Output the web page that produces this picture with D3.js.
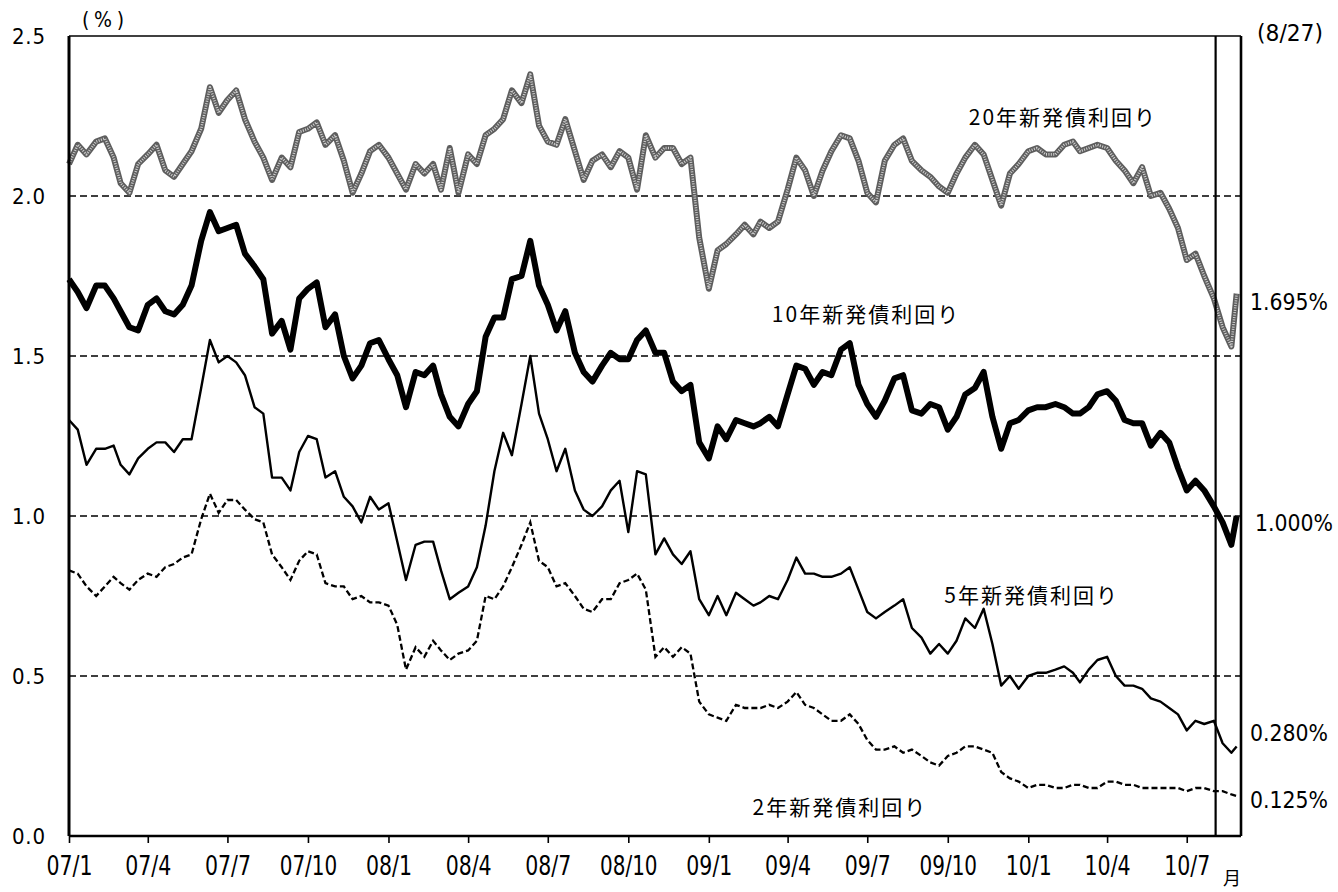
<!DOCTYPE html>
<html>
<head>
<meta charset="utf-8">
<script src="https://cdn.jsdelivr.net/npm/d3@7"></script>
<style>
body { margin: 0; background: #fff; }
text { font-family: "DejaVu Sans", sans-serif; font-stretch: condensed; fill: #000; }
.jp { font-family: "Noto Sans CJK JP", sans-serif; font-stretch: normal; }
</style>
</head>
<body>
<div class="chart"></div>
<script>
// observation dates (1st, 11th, 21st of each month, plus last day shown)
var dates = [
"2007-01-01","2007-01-11","2007-01-21","2007-02-01","2007-02-11","2007-02-21","2007-03-01","2007-03-11","2007-03-21",
"2007-04-01","2007-04-11","2007-04-21","2007-05-01","2007-05-11","2007-05-21","2007-06-01","2007-06-11","2007-06-21",
"2007-07-01","2007-07-11","2007-07-21","2007-08-01","2007-08-11","2007-08-21","2007-09-01","2007-09-11","2007-09-21",
"2007-10-01","2007-10-11","2007-10-21","2007-11-01","2007-11-11","2007-11-21","2007-12-01","2007-12-11","2007-12-21",
"2008-01-01","2008-01-11","2008-01-21","2008-02-01","2008-02-11","2008-02-21","2008-03-01","2008-03-11","2008-03-21",
"2008-04-01","2008-04-11","2008-04-21","2008-05-01","2008-05-11","2008-05-21","2008-06-01","2008-06-11","2008-06-21",
"2008-07-01","2008-07-11","2008-07-21","2008-08-01","2008-08-11","2008-08-21","2008-09-01","2008-09-11","2008-09-21",
"2008-10-01","2008-10-11","2008-10-21","2008-11-01","2008-11-11","2008-11-21","2008-12-01","2008-12-11","2008-12-21",
"2009-01-01","2009-01-11","2009-01-21","2009-02-01","2009-02-11","2009-02-21","2009-03-01","2009-03-11","2009-03-21",
"2009-04-01","2009-04-11","2009-04-21","2009-05-01","2009-05-11","2009-05-21","2009-06-01","2009-06-11","2009-06-21",
"2009-07-01","2009-07-11","2009-07-21","2009-08-01","2009-08-11","2009-08-21","2009-09-01","2009-09-11","2009-09-21",
"2009-10-01","2009-10-11","2009-10-21","2009-11-01","2009-11-11","2009-11-21","2009-12-01","2009-12-11","2009-12-21",
"2010-01-01","2010-01-11","2010-01-21","2010-02-01","2010-02-11","2010-02-21","2010-03-01","2010-03-11","2010-03-21",
"2010-04-01","2010-04-11","2010-04-21","2010-05-01","2010-05-11","2010-05-21","2010-06-01","2010-06-11","2010-06-21",
"2010-07-01","2010-07-11","2010-07-21","2010-08-01","2010-08-11","2010-08-21","2010-08-27"
];

var yield20 = [
2.10,2.16,2.13, 2.17,2.18,2.12, 2.04,2.01,2.10, 2.13,2.16,2.08, 2.06,2.10,2.14, 2.21,2.34,2.26,
2.30,2.33,2.24, 2.17,2.12,2.05, 2.12,2.09,2.20, 2.21,2.23,2.16, 2.19,2.11,2.01, 2.07,2.14,2.16,
2.12,2.07,2.02, 2.10,2.07,2.10, 2.02,2.15,2.01, 2.13,2.10,2.19, 2.21,2.24,2.33, 2.29,2.38,2.22,
2.17,2.16,2.24, 2.14,2.05,2.11, 2.13,2.09,2.14, 2.12,2.02,2.19, 2.12,2.15,2.15, 2.10,2.12,1.87,
1.71,1.83,1.85, 1.88,1.91,1.88, 1.92,1.90,1.92, 2.02,2.12,2.08, 2.00,2.08,2.14, 2.19,2.18,2.11,
2.01,1.98,2.11, 2.16,2.18,2.11, 2.08,2.06,2.03, 2.01,2.07,2.12, 2.16,2.13,2.05, 1.97,2.07,2.10,
2.14,2.15,2.13, 2.13,2.16,2.17, 2.14,2.15,2.16, 2.15,2.11,2.08, 2.04,2.09,2.00, 2.01,1.96,1.90,
1.80,1.82,1.75, 1.68,1.59,1.53, 1.695
];

var yield10 = [
1.74,1.70,1.65, 1.72,1.72,1.68, 1.64,1.59,1.58, 1.66,1.68,1.64, 1.63,1.66,1.72, 1.86,1.95,1.89,
1.90,1.91,1.82, 1.78,1.74,1.57, 1.61,1.52,1.68, 1.71,1.73,1.59, 1.63,1.50,1.43, 1.47,1.54,1.55,
1.49,1.44,1.34, 1.45,1.44,1.47, 1.38,1.31,1.28, 1.35,1.39,1.56, 1.62,1.62,1.74, 1.75,1.86,1.72,
1.66,1.58,1.64, 1.51,1.45,1.42, 1.47,1.51,1.49, 1.49,1.55,1.58, 1.51,1.51,1.42, 1.39,1.41,1.23,
1.18,1.28,1.24, 1.30,1.29,1.28, 1.29,1.31,1.28, 1.38,1.47,1.46, 1.41,1.45,1.44, 1.52,1.54,1.41,
1.35,1.31,1.36, 1.43,1.44,1.33, 1.32,1.35,1.34, 1.27,1.31,1.38, 1.40,1.45,1.31, 1.21,1.29,1.30,
1.33,1.34,1.34, 1.35,1.34,1.32, 1.32,1.34,1.38, 1.39,1.36,1.30, 1.29,1.29,1.22, 1.26,1.23,1.15,
1.08,1.11,1.08, 1.03,0.98,0.91, 1.000
];

var yield5 = [
1.30,1.27,1.16, 1.21,1.21,1.22, 1.16,1.13,1.18, 1.21,1.23,1.23, 1.20,1.24,1.24, 1.40,1.55,1.48,
1.50,1.48,1.44, 1.34,1.32,1.12, 1.12,1.08,1.20, 1.25,1.24,1.12, 1.14,1.06,1.03, 0.98,1.06,1.02,
1.04,0.92,0.80, 0.91,0.92,0.92, 0.83,0.74,0.76, 0.78,0.84,0.97, 1.14,1.26,1.19, 1.35,1.50,1.32,
1.24,1.14,1.21, 1.08,1.02,1.00, 1.03,1.08,1.11, 0.95,1.14,1.13, 0.88,0.93,0.88, 0.85,0.89,0.74,
0.69,0.75,0.69, 0.76,0.74,0.72, 0.73,0.75,0.74, 0.80,0.87,0.82, 0.82,0.81,0.81, 0.82,0.84,0.77,
0.70,0.68,0.70, 0.72,0.74,0.65, 0.62,0.57,0.60, 0.57,0.61,0.68, 0.65,0.71,0.60, 0.47,0.50,0.46,
0.50,0.51,0.51, 0.52,0.53,0.51, 0.48,0.52,0.55, 0.56,0.50,0.47, 0.47,0.46,0.43, 0.42,0.40,0.38,
0.33,0.36,0.35, 0.36,0.29,0.26, 0.280
];

var yield2 = [
0.83,0.82,0.78, 0.75,0.78,0.81, 0.79,0.77,0.80, 0.82,0.81,0.84, 0.85,0.87,0.88, 0.99,1.07,1.01,
1.05,1.05,1.02, 0.99,0.98,0.88, 0.84,0.80,0.86, 0.89,0.88,0.79, 0.78,0.78,0.74, 0.75,0.73,0.73,
0.72,0.66,0.52, 0.59,0.56,0.61, 0.58,0.55,0.57, 0.58,0.61,0.75, 0.74,0.78,0.84, 0.91,0.98,0.86,
0.84,0.78,0.79, 0.75,0.71,0.70, 0.74,0.74,0.79, 0.80,0.82,0.77, 0.56,0.59,0.56, 0.59,0.57,0.42,
0.38,0.37,0.36, 0.41,0.40,0.40, 0.40,0.41,0.40, 0.42,0.45,0.41, 0.40,0.38,0.36, 0.36,0.38,0.35,
0.30,0.27,0.27, 0.28,0.26,0.27, 0.25,0.23,0.22, 0.25,0.26,0.28, 0.28,0.27,0.26, 0.20,0.18,0.17,
0.15,0.16,0.16, 0.15,0.15,0.16, 0.16,0.15,0.15, 0.17,0.17,0.16, 0.16,0.15,0.15, 0.15,0.15,0.15,
0.14,0.15,0.15, 0.14,0.14,0.13, 0.125
];

var seriesNames = ["20年新発債利回り", "10年新発債利回り", "5年新発債利回り", "2年新発債利回り"];
var endLabels = ["1.695%", "1.000%", "0.280%", "0.125%"];
// where each series name sits: [date, value]
var namePlaces = [["2009-10-25", 2.25], ["2009-03-14", 1.635], ["2009-09-27", 0.755], ["2009-02-20", 0.095]];

var xTickDates = ["2007-01-01","2007-04-01","2007-07-01","2007-10-01","2008-01-01","2008-04-01","2008-07-01","2008-10-01",
                  "2009-01-01","2009-04-01","2009-07-01","2009-10-01","2010-01-01","2010-04-01","2010-07-01"];
var xTickLabels = ["07/1","07/4","07/7","07/10","08/1","08/4","08/7","08/10","09/1","09/4","09/7","09/10","10/1","10/4","10/7"];
var yTicks = [0, 0.5, 1.0, 1.5, 2.0, 2.5];
var yTickLabels = ["0.0", "0.5", "1.0", "1.5", "2.0", "2.5"];
var gridValues = [0.5, 1.0, 1.5, 2.0];
var xDomain = ["2007-01-01", "2010-09-01"];
var markDate = "2010-08-03";
var lastDateLabel = "(8/27)";


var parse = d3.timeParse("%Y-%m-%d");

var svg = d3
.select('div.chart')
.append('svg')
.attr('width', 1338)
.attr('height', 892)
;

var t = d3.scaleTime()
.domain(xDomain.map(parse))
.range([69, 1241])
;

var m = d3.scaleLinear()
.domain([0, 2.5])
.range([836, 36])
;

// dashed grid
svg.selectAll('.grid')
.data(gridValues)
.enter()
.append('line')
.attr('class', 'grid')
.attr('x1', t.range()[0])
.attr('x2', t.range()[1])
.attr('y1', function(d){return m(d)})
.attr('y2', function(d){return m(d)})
.attr('stroke', '#000')
.attr('stroke-width', 1.3)
.attr('stroke-dasharray', '7,4')
;

var line = d3.line()
.x(function(d){return t(d.date)})
.y(function(d){return m(d.v)})
;

function rows(values) {
    return values.map(function(v, i){return {date: parse(dates[i]), v: v}});
}

// 20yr: grey stippled thick line
svg.append('path')
.datum(rows(yield20))
.attr('d', line)
.attr('fill', 'none')
.attr('stroke', '#5e5e5e')
.attr('stroke-width', 6)
.attr('stroke-linejoin', 'round')
;
svg.append('path')
.datum(rows(yield20))
.attr('d', line)
.attr('fill', 'none')
.attr('stroke', '#d0d0d0')
.attr('stroke-width', 2.6)
.attr('stroke-dasharray', '1,1.4')
.attr('stroke-linejoin', 'round')
;

// 10yr: thick black
svg.append('path')
.datum(rows(yield10))
.attr('d', line)
.attr('fill', 'none')
.attr('stroke', '#000')
.attr('stroke-width', 6)
.attr('stroke-linejoin', 'round')
;

// 5yr: thin black
svg.append('path')
.datum(rows(yield5))
.attr('d', line)
.attr('fill', 'none')
.attr('stroke', '#000')
.attr('stroke-width', 2.4)
.attr('stroke-linejoin', 'round')
;

// 2yr: dashed
svg.append('path')
.datum(rows(yield2))
.attr('d', line)
.attr('fill', 'none')
.attr('stroke', '#000')
.attr('stroke-width', 2.3)
.attr('stroke-dasharray', '6,3')
;

// frame
var x0 = t.range()[0], x1 = t.range()[1], yTop = m(2.5), yBot = m(0);
svg.append('line').attr('x1', x0).attr('x2', x1).attr('y1', yTop).attr('y2', yTop)
.attr('stroke', '#000').attr('stroke-width', 1.6);
svg.append('line').attr('x1', x1).attr('x2', x1).attr('y1', yTop).attr('y2', yBot)
.attr('stroke', '#000').attr('stroke-width', 2.6);
svg.append('line').attr('x1', x0).attr('x2', x0).attr('y1', yTop).attr('y2', yBot)
.attr('stroke', '#000').attr('stroke-width', 3);

// marker line
svg.append('line')
.attr('x1', t(parse(markDate))).attr('x2', t(parse(markDate)))
.attr('y1', yTop).attr('y2', yBot)
.attr('stroke', '#000').attr('stroke-width', 2.2)
;

var xAxis = d3.axisBottom()
.scale(t)
.tickValues(xTickDates.map(parse))
.tickFormat(function(d, i){return xTickLabels[i]})
.tickSize(7)
.tickPadding(14)
;

var gx = svg.append('g')
.attr('class', 'x-axis')
.attr('transform', 'translate(0,' + yBot + ')')
.call(xAxis)
;
gx.select('.domain').attr('stroke-width', 2.6).attr('d', 'M' + x0 + ',0H' + x1);
gx.selectAll('.tick line').attr('stroke-width', 1.6);
gx.selectAll('.tick text')
.attr('font-size', 26)
.attr('font-family', null)
.attr('textLength', function(d, i){return xTickLabels[i].length * 11.5})
.attr('lengthAdjust', 'spacingAndGlyphs')
;

var yAxis = d3.axisLeft()
.scale(m)
.tickValues(yTicks)
.tickFormat(function(d, i){return yTickLabels[i]})
.tickSize(0)
.tickPadding(24)
;

var gy = svg.append('g')
.attr('class', 'y-axis')
.attr('transform', 'translate(' + x0 + ',0)')
.call(yAxis)
;
gy.select('.domain').remove();
gy.selectAll('.tick text')
.attr('font-size', 22)
.attr('font-family', null)
.attr('textLength', 33)
.attr('lengthAdjust', 'spacing')
;

// unit labels
svg.append('text').attr('x', 82).attr('y', 20)
.attr('dominant-baseline', 'central').attr('font-size', 21)
.attr('textLength', 42).attr('lengthAdjust', 'spacing').text('(%)');
svg.append('text').attr('x', 1257).attr('y', yTop - 3)
.attr('dominant-baseline', 'central').attr('font-size', 23)
.attr('textLength', 66).attr('lengthAdjust', 'spacingAndGlyphs').text(lastDateLabel);
svg.append('text').attr('class', 'jp').attr('x', 1232).attr('y', 877).attr('text-anchor', 'middle')
.attr('dominant-baseline', 'central').attr('font-size', 18).text('月');

// end values on the right
var lastVals = [yield20, yield10, yield5, yield2].map(function(a){return a[a.length - 1]});
var endNudge = [8, 7, -13, 4];
var endX = [1250, 1255, 1250, 1250];
svg.selectAll('.endlabel')
.data(endLabels)
.enter()
.append('text')
.attr('class', 'endlabel')
.attr('x', function(d, i){return endX[i]})
.attr('y', function(d, i){return m(lastVals[i]) + endNudge[i]})
.attr('dominant-baseline', 'central')
.attr('font-size', 23)
.attr('textLength', 78)
.attr('lengthAdjust', 'spacingAndGlyphs')
.text(function(d){return d})
;

// series names
svg.selectAll('.name')
.data(seriesNames)
.enter()
.append('text')
.attr('class', 'jp')
.attr('x', function(d, i){return t(parse(namePlaces[i][0]))})
.attr('y', function(d, i){return m(namePlaces[i][1])})
.attr('dominant-baseline', 'central')
.attr('font-size', 21)
.style('letter-spacing', '2px')
.text(function(d){return d})
;
</script>
</body>
</html>
